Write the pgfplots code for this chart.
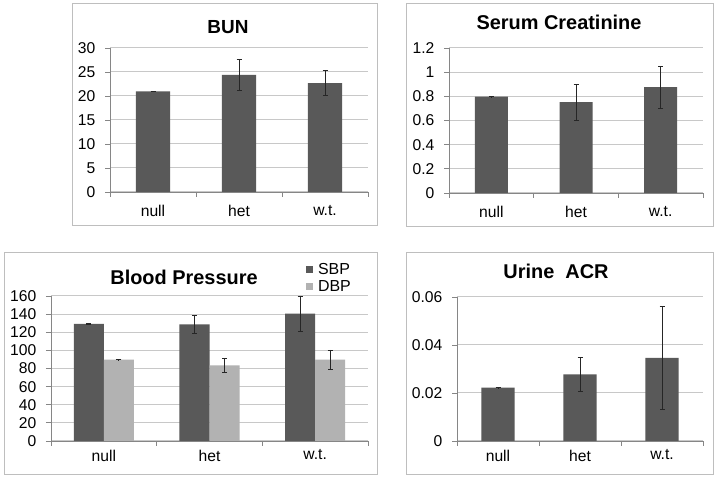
\documentclass[border=0pt]{standalone}
\usepackage{pgfplots}
\pgfplotsset{compat=1.18}
\usepackage{pgfplotstable}
\usepackage{fontspec}
\setmainfont{Liberation Sans}

\definecolor{bardark}{RGB}{89,89,89}
\definecolor{barlight}{RGB}{178,178,178}
\definecolor{gridc}{RGB}{200,200,200}
\definecolor{axisc}{RGB}{134,134,134}
\definecolor{framec}{RGB}{190,190,190}

\pgfplotstableread{
x y e
0 20.95 0.06
1 24.4 3.3
2 22.7 2.55
}\bun
\pgfplotstableread{
x y e
0 0.798 0.002
1 0.751 0.149
2 0.876 0.174
}\scr
% bar centres: category position -0.142 (SBP) and +0.142 (DBP)
\pgfplotstableread{
x y e
-0.142 129.2 0.3
0.858 128.7 9.6
1.858 140.5 19.5
}\sbp
\pgfplotstableread{
x y e
0.142 89.8 0.3
1.142 83.5 7.7
2.142 89.8 10.7
}\dbp
\pgfplotstableread{
x y e
0 0.0222 0.00005
1 0.0278 0.0070
2 0.0346 0.0213
}\acr

\pgfplotsset{
  panel/.style={
    scale only axis,
    axis lines=left,
    axis line style={-, draw=axisc, line width=0.8bp},
    tick align=outside,
    major tick length=5bp,
    minor tick length=5bp,
    ymajorgrids,
    grid style={draw=gridc, line width=1bp},
    xmin=-0.5, xmax=2.5,
    xtick={0,1,2},
    xticklabels={null,het,w.t.},
    minor xtick={-0.5,0.5,1.5,2.5},
    major x tick style={draw=none},
    minor x tick style={draw=axisc, line width=0.8bp},
    ytick style={draw=axisc, line width=0.8bp},
    scaled y ticks=false,
    tick label style={font=\fontsize{15.7}{18}\selectfont},
    xticklabel style={anchor=north, inner sep=0pt, yshift=-8bp},
    yticklabel style={anchor=east, inner sep=0pt, xshift=-9.5bp},
    /pgf/number format/assume math mode=true,
    clip=false,
  },
  errbar/.style={
    error bars/.cd, y dir=both, y explicit,
    error bar style={draw=black!85, line width=0.8bp},
    error mark options={draw=black!85, line width=0.8bp, mark size=2.5bp, rotate=90},
  },
}

\begin{document}
\begin{tikzpicture}[x=1bp,y=1bp]
\useasboundingbox (0,0) rectangle (717,480);
\fill[white] (0,0) rectangle (717,480);
\draw[framec, line width=1bp] (72,254) rectangle (377,476);
\draw[framec, line width=1bp] (406,253) rectangle (713,476);
\draw[framec, line width=1bp] (4,5) rectangle (377,227);
\draw[framec, line width=1bp] (406,5) rectangle (713,227);

\node[font=\bfseries\fontsize{19}{22}\selectfont] at (228,453.3) {BUN};
\node[font=\bfseries\fontsize{20}{23}\selectfont] at (559,457.8) {Serum Creatinine};
\node[font=\bfseries\fontsize{20}{23}\selectfont] at (184,202.8) {Blood Pressure};
\node[font=\bfseries\fontsize{20}{23}\selectfont] at (556,208.8) {Urine\ \ ACR};

% BUN
\begin{axis}[panel, at={(110bp,288bp)}, anchor=south west, width=258bp, height=144bp,
  ymin=0, ymax=30, ytick={0,5,10,15,20,25,30}]
\addplot[ybar, bar width=0.4, bar shift=0, fill=bardark, draw=none, errbar]
  table[x=x, y=y, y error=e] {\bun};
\end{axis}

% Serum Creatinine
\begin{axis}[panel, at={(449bp,287bp)}, anchor=south west, width=254bp, height=145bp,
  ymin=0, ymax=1.2, ytick={0,0.2,0.4,0.6,0.8,1,1.2},
  yticklabels={0,0.2,0.4,0.6,0.8,1,1.2}]
\addplot[ybar, bar width=0.39, bar shift=0, fill=bardark, draw=none, errbar]
  table[x=x, y=y, y error=e] {\scr};
\end{axis}

% Blood Pressure
\begin{axis}[panel, at={(51bp,39bp)}, anchor=south west, width=317bp, height=145bp,
  ymin=0, ymax=160, ytick={0,20,40,60,80,100,120,140,160},
  xticklabel style={yshift=4.5bp},
  legend style={at={(0.804,1.226)}, anchor=north west, draw=none, fill=none,
    inner sep=0pt, row sep=4.5bp, font=\fontsize{16}{18}\selectfont,
    nodes={inner sep=0pt},
    /tikz/every odd column/.style={column sep=5bp}},
  legend cell align=left,
  legend image code/.code={\fill[#1] (0bp,-3.5bp) rectangle (7bp,3.5bp);},
]
\addplot[ybar, bar width=0.284, bar shift=0, fill=bardark, draw=none, errbar]
  table[x=x, y=y, y error=e] {\sbp};
\addlegendentry{SBP}
\addplot[ybar, bar width=0.284, bar shift=0, fill=barlight, draw=none, errbar]
  table[x=x, y=y, y error=e] {\dbp};
\addlegendentry{DBP}
\end{axis}

% Urine ACR
\begin{axis}[panel, at={(457bp,39bp)}, anchor=south west, width=246bp, height=144bp,
  ymin=0, ymax=0.06, ytick={0,0.02,0.04,0.06},
  yticklabels={0,0.02,0.04,0.06},
  xticklabel style={yshift=4.5bp}]
\addplot[ybar, bar width=0.406, bar shift=0, fill=bardark, draw=none, errbar]
  table[x=x, y=y, y error=e] {\acr};
\end{axis}
\end{tikzpicture}
\end{document}
